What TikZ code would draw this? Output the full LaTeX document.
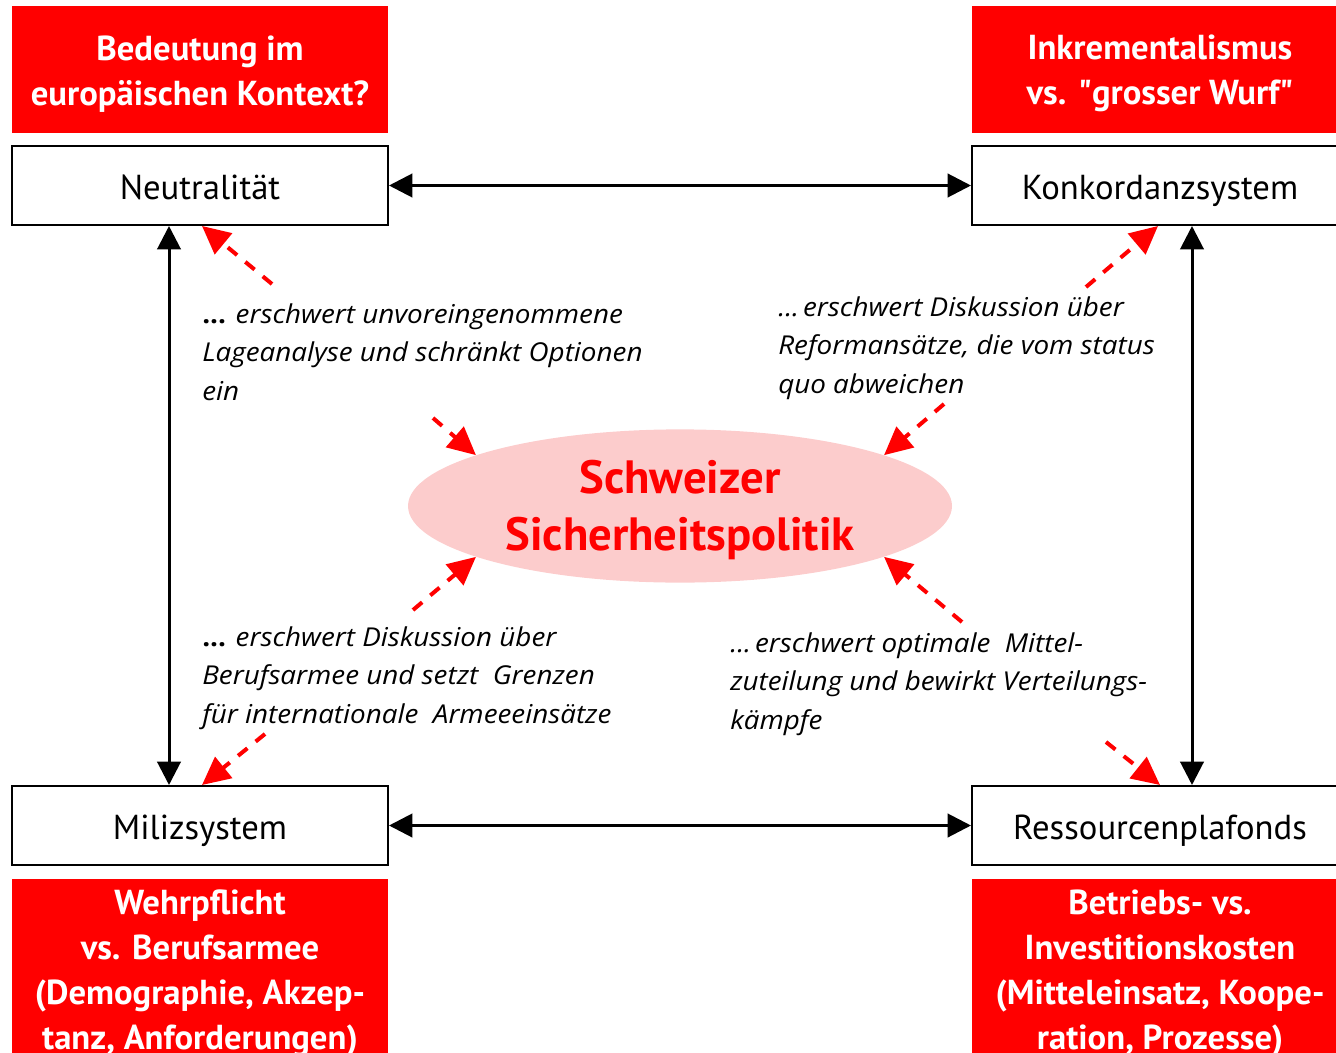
\documentclass[tikz,border=0pt]{standalone}
\usepackage{fontspec}
\setmainfont{PT Sans}
\newfontfamily\notefont{Open Sans}[FakeStretch=1.07]
\newcommand{\sq}{{\XeTeXglyph\XeTeXcharglyph"22\relax}}
\usetikzlibrary{arrows.meta,shapes.geometric,calc}
\definecolor{myred}{RGB}{255,0,0}
\definecolor{mypink}{RGB}{252,204,204}
\begin{document}
\begin{tikzpicture}[x=0.75pt,y=-0.75pt,
  box/.style={draw=black, line width=1.5pt, fill=white, minimum width=282pt, minimum height=59.25pt, inner sep=0pt, text height=21pt, text depth=0pt, font=\fontsize{26}{30}\selectfont},
  redbox/.style={fill=myred, text=white, minimum width=282pt, inner sep=0pt, align=center, font=\bfseries\fontsize{26}{33.75}\selectfont},
  note/.style={anchor=west, align=left, inner sep=0pt, font=\notefont\itshape\fontsize{19.5}{29}\selectfont},
  biarrow/.style={{Triangle[length=17.5pt,width=17.5pt]}-{Triangle[length=17.5pt,width=17.5pt]}, line width=2.25pt},
  infl/.style={-{Triangle[length=21pt,width=20pt]}, line width=3pt, draw=myred, dash pattern=on 9pt off 8pt}
]
\useasboundingbox (0,0) rectangle (1336,1053);
\clip (0,0) rectangle (1336,1053);

% red boxes
\node[redbox, minimum height=95.25pt] (rtl) at (200,69.5) {\rule{0pt}{25pt}Bedeutung im\\europäischen Kontext?};
\node[redbox, minimum height=95.25pt] (rtr) at (1160,69.5) {\rule{0pt}{25pt}Inkrementalismus\\vs. \sq grosser Wurf\sq};
\node[redbox, minimum height=135.75pt] (rbl) at (200,969.5) {\rule{0pt}{25pt}Wehrpflicht\\vs. Berufsarmee\\(Demographie, Akzep-\\tanz, Anforderungen)};
\node[redbox, minimum height=135.75pt] (rbr) at (1160,969.5) {\rule{0pt}{25pt}Betriebs- vs.\\Investitionskosten\\(Mitteleinsatz, Koope-\\ration, Prozesse)};

% white boxes
\node[box] (neut) at (200,185.5) {Neutralität};
\node[box] (konk) at (1160,185.5) {Konkordanzsystem};
\node[box] (miliz) at (200,825.5) {Milizsystem};
\node[box] (res) at (1160,825.5) {Ressourcenplafonds};

% ellipse
\node[ellipse, fill=mypink, minimum width=408pt, minimum height=96pt, inner sep=0pt, align=center,
  text=myred, font=\bfseries\fontsize{35}{42.75}\selectfont] (ell) at (680,506) {\rule{0pt}{31.5pt}Schweizer\\Sicherheitspolitik};

% notes
\node[note] (t1) at (202,352) {{\upshape\bfseries ...} erschwert unvoreingenommene\\Lageanalyse und schränkt Optionen\\ein};
\node[note] (t2) at (778,348) {...\kern-2.5pt\ erschwert Diskussion über\\Reformansätze, die vom status\\quo abweichen};
\node[note] (t3) at (202,678) {{\upshape\bfseries ...} erschwert Diskussion über\\Berufsarmee und setzt~ Grenzen\\für internationale~ Armeeeinsätze};
\node[note] (t4) at (730,684) {...\kern-2.5pt\ erschwert optimale~ Mittel-\\zuteilung und bewirkt Verteilungs-\\kämpfe};

% black arrows
\coordinate (lx) at (169,0);
\coordinate (rx) at (1192,0);
\draw[biarrow] (neut.east) -- (konk.west);
\draw[biarrow] (miliz.east) -- (res.west);
\draw[biarrow] (lx |- neut.south) -- (lx |- miliz.north);
\draw[biarrow] (rx |- konk.south) -- (rx |- res.north);

% red dashed arrows
\coordinate (s1) at (272,284);
\coordinate (s2) at (433,418);
\coordinate (s3) at (1086,287);
\coordinate (s4) at (944,404);
\coordinate (s5) at (413,610);
\coordinate (s6) at (265,734);
\coordinate (s7) at (962,622);
\coordinate (s8) at (1106,742);
\draw[infl] (s1) -- ($(neut.south)+(2,0)$);
\draw[infl] (s2) -- (ell.166);
\draw[infl] (s3) -- ($(konk.south)+(-2,0)$);
\draw[infl] (s4) -- (ell.14);
\draw[infl] (s5) -- (ell.194);
\draw[infl] (s6) -- ($(miliz.north)+(2,0)$);
\draw[infl] (s7) -- (ell.-14);
\draw[infl] (s8) -- (res.north);
\end{tikzpicture}
\end{document}
